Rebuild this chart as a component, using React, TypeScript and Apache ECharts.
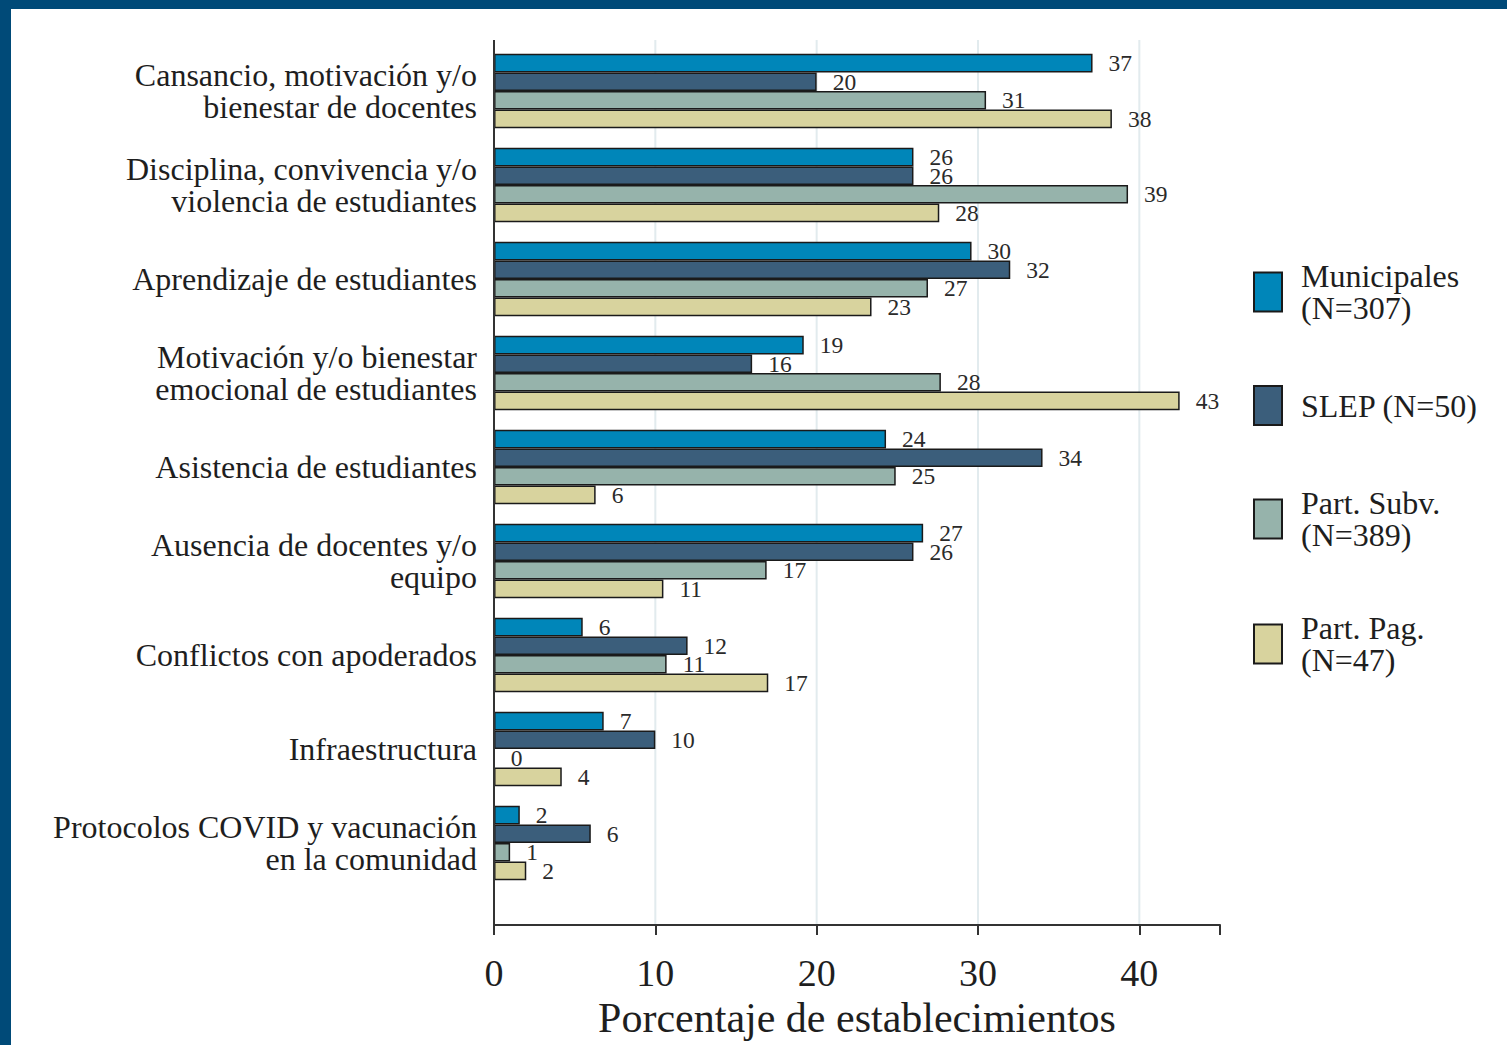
import React, { useEffect, useRef } from "react";
import * as echarts from "echarts";

const categories = [
  "Cansancio, motivación y/o\nbienestar de docentes",
  "Disciplina, convivencia y/o\nviolencia de estudiantes",
  "Aprendizaje de estudiantes",
  "Motivación y/o bienestar\nemocional de estudiantes",
  "Asistencia de estudiantes",
  "Ausencia de docentes y/o\nequipo",
  "Conflictos con apoderados",
  "Infraestructura",
  "Protocolos COVID y vacunación\nen la comunidad",
];

const seriesNames = ["Municipales", "SLEP", "Part. Subv.", "Part. Pag."];
const legendLabels = ["Municipales\n(N=307)", "SLEP (N=50)", "Part. Subv.\n(N=389)", "Part. Pag.\n(N=47)"];

const municipales = [37.1, 26.0, 29.6, 19.2, 24.3, 26.6, 5.5, 6.8, 1.6];
const slep = [20.0, 26.0, 32.0, 16.0, 34.0, 26.0, 12.0, 10.0, 6.0];
const partSubv = [30.5, 39.3, 26.9, 27.7, 24.9, 16.9, 10.7, 0, 1.0];
const partPag = [38.3, 27.6, 23.4, 42.5, 6.3, 10.5, 17.0, 4.2, 2.0];

const xTicks = [0, 10, 20, 30, 40];
const xMax = 45;

const colors = ["#0086b9", "#3b5e7b", "#96b3ab", "#d8d39e"];
const FONT = "'Liberation Serif', 'DejaVu Serif', serif";

export default function App() {
  const ref = useRef<HTMLDivElement>(null);

  useEffect(() => {
    if (!ref.current) return;
    const chart = echarts.init(ref.current, null, { renderer: "svg" });
    const data = [municipales, slep, partSubv, partPag];

    const option: any = {
      animation: false,
      backgroundColor: "#ffffff",
      grid: {
        left: 494,
        right: 287,
        top: 44,
        height: 846,
        containLabel: false,
        outerBoundsMode: "none",
      },
      xAxis: {
        type: "value",
        min: 0,
        max: xMax,
        interval: 10,
        offset: 35,
        name: "Porcentaje de establecimientos",
        nameLocation: "middle",
        nameGap: 64,
        nameTextStyle: { fontFamily: FONT, fontSize: 42, color: "#1e1e1e" },
        axisLine: { show: true, lineStyle: { color: "#333", width: 2 } },
        axisTick: { show: true, length: 10, lineStyle: { color: "#333", width: 2 } },
        axisLabel: {
          fontFamily: FONT,
          fontSize: 38,
          color: "#1e1e1e",
          margin: 29,
          formatter: (v: number) => (xTicks.includes(v) ? String(v) : ""),
        },
        splitLine: { show: false },
      },
      yAxis: {
        type: "category",
        inverse: true,
        data: categories,
        axisLine: { show: false },
        axisTick: { show: false },
        axisLabel: {
          fontFamily: FONT,
          fontSize: 32,
          lineHeight: 32,
          color: "#1e1e1e",
          margin: 17,
          align: "right",
        },
      },
      legend: {
        show: true,
        orient: "vertical",
        left: 1248,
        top: 255,
        icon: "rect",
        itemWidth: 28,
        itemHeight: 39,
        itemGap: 61,
        data: seriesNames,
        formatter: (name: string) => legendLabels[seriesNames.indexOf(name)],
        textStyle: {
          fontFamily: FONT,
          fontSize: 32,
          lineHeight: 32,
          color: "#1e1e1e",
          padding: [0, 0, 0, 14],
        },
      },
      series: seriesNames.map((n, i) => ({
        name: n,
        type: "bar",
        data: data[i],
        barWidth: 18.6,
        barGap: "0%",
        itemStyle: { color: colors[i], borderColor: "#1a1a1a", borderWidth: 1.5 },
        label: {
          show: true,
          position: "right",
          distance: 16,
          fontFamily: FONT,
          fontSize: 23.5,
          color: "#2a2a2a",
          formatter: (p: any) => String(Math.round(p.value)),
        },
      })),
    };

    chart.setOption(option);

    const x0 = chart.convertToPixel({ xAxisIndex: 0 }, 0) as number;
    const gridLines = xTicks
      .filter((t) => t > 0)
      .map((t) => {
        const x = chart.convertToPixel({ xAxisIndex: 0 }, t) as number;
        return {
          type: "line",
          z: -1,
          shape: { x1: x, y1: 40, x2: x, y2: 925 },
          style: { stroke: "#e2ebee", lineWidth: 2 },
        };
      });

    chart.setOption({
      graphic: [
        { type: "rect", shape: { x: 0, y: 0, width: 1507, height: 9 }, style: { fill: "#004a78" } },
        { type: "rect", shape: { x: 0, y: 0, width: 11, height: 1045 }, style: { fill: "#004a78" } },
        ...gridLines,
        {
          type: "line",
          z: 10,
          shape: { x1: x0, y1: 40, x2: x0, y2: 926 },
          style: { stroke: "#333", lineWidth: 2 },
        },
      ],
    });

    return () => chart.dispose();
  }, []);

  return (
    <div
      ref={ref}
      style={{ position: "fixed", left: 0, top: 0, width: 1507, height: 1045, background: "#fff" }}
    />
  );
}
